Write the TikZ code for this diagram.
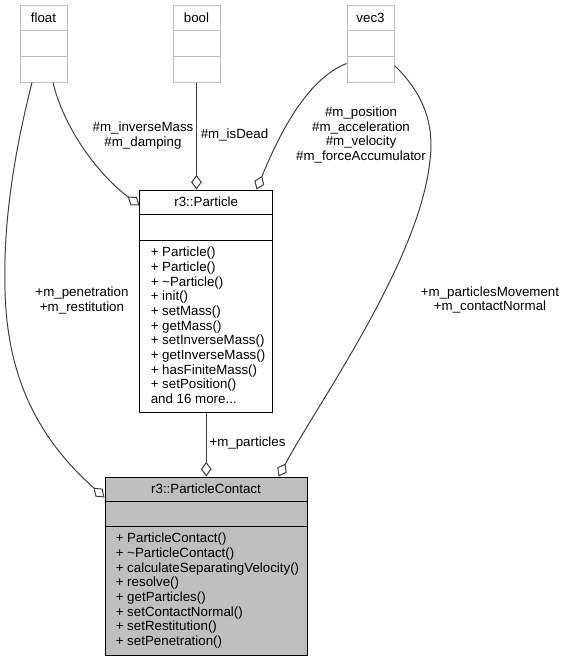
\documentclass[tikz,border=0pt]{standalone}
\usepackage{fontspec}
\setmainfont{Liberation Sans}
\usetikzlibrary{arrows.meta,calc}
\definecolor{grey75}{HTML}{BFBFBF}
\definecolor{grey25}{HTML}{404040}
\tikzset{
  >={Diamond[open,length=11pt,width=8pt]},
}
\tikzstyle{every node}=[font=\fontsize{10pt}{11pt}\selectfont]
\tikzstyle{leaf}=[draw=grey75,line width=0.75pt,minimum width=35.25pt,minimum height=57.75pt]
\tikzstyle{cls}=[draw=black,line width=0.75pt]
\tikzstyle{sep}=[line width=0.75pt]
\tikzstyle{link}=[grey25,line width=0.75pt,->]
\tikzstyle{members}=[anchor=north west,align=left,inner sep=0]
\tikzstyle{role}=[align=center,inner sep=0]

\begin{document}
\begin{tikzpicture}[x=0.75pt,y=-0.75pt]
    \useasboundingbox (0,0) rectangle (564,661);
    % member types
    \node[leaf] (float) at (43.5,43.5) {};
    \node[leaf] (bool) at (196.5,43.5) {};
    \node[leaf] (vec3) at (370.5,43.5) {};
    \foreach \t in {float,bool,vec3} {
      \node (\t-name) at ($(\t.north)+(0,13)$) {\t};
      \draw[sep,grey75] ($(\t.north west)+(0,26)$) -- ($(\t.north east)+(0,26)$);
      \draw[sep,grey75] ($(\t.north west)+(0,52)$) -- ($(\t.north east)+(0,52)$);
    }
    % r3::Particle
    \node[cls,minimum width=99.4pt,minimum height=166.5pt] (part) at (206.25,301) {};
    \node (part-name) at ($(part.north)+(0,12.5)$) {r3::Particle};
    \draw[sep] ($(part.north west)+(0,25)$) -- ($(part.north east)+(0,25)$);
    \draw[sep] ($(part.north west)+(0,51)$) -- ($(part.north east)+(0,51)$);
    \node[members] (part-ops) at ($(part.north west)+(11,57.5)$) {+ Particle()\\+ Particle()\\+ \textasciitilde Particle()\\+ init()\\+ setMass()\\+ getMass()\\+ setInverseMass()\\+ getInverseMass()\\+ hasFiniteMass()\\+ setPosition()\\and 16 more...};
    % r3::ParticleContact
    \node[cls,fill=grey75,minimum width=151.5pt,minimum height=133.5pt] (pc) at (206,566) {};
    \node (pc-name) at ($(pc.north)+(0,12)$) {r3::ParticleContact};
    \draw[sep] ($(pc.north west)+(0,25)$) -- ($(pc.north east)+(0,25)$);
    \draw[sep] ($(pc.north west)+(0,50)$) -- ($(pc.north east)+(0,50)$);
    \node[members] (pc-ops) at ($(pc.north west)+(11,56.5)$) {+ ParticleContact()\\+ \textasciitilde ParticleContact()\\+ calculateSeparatingVelocity()\\+ resolve()\\+ getParticles()\\+ setContactNormal()\\+ setRestitution()\\+ setPenetration()};
    % usage links
    \draw[link] ($(float.south)+(9.5,0)$) .. controls (63,125) and (95,172) .. ($(part.north west)+(0,16)$);
    \draw[link] (bool.south) -- (bool.south |- part.north);
    \draw[link] ($(vec3.south west)+(0,-19)$) .. controls (310,78) and (283,125) .. ($(part.north east)+(-16.5,0)$);
    \draw[link] ($(float.south)+(-11.5,0)$) .. controls (15,150) and (3,220) .. (5,290)
      .. controls (7,380) and (40,440) .. ($(pc.north west)+(0,21)$);
    \draw[link] (part.south) -- (part.south |- pc.north);
    \draw[link] ($(vec3.south east)+(0,-17)$) .. controls (420,90) and (435,120) .. (430,160)
      .. controls (420,260) and (320,400) .. ($(pc.north east)+(-29,0)$);
    \node[role] (l-mass) at (143,135.5) {\#m\_inverseMass\\\#m\_damping};
    \node[role] (l-dead) at (234.5,135) {\#m\_isDead};
    \node[role] (l-vec) at (361,135) {\#m\_position\\\#m\_acceleration\\\#m\_velocity\\\#m\_forceAccumulator};
    \node[role] (l-pen) at (82,300.5) {+m\_penetration\\+m\_restitution};
    \node[role] (l-parts) at (247.5,443) {+m\_particles};
    \node[role] (l-move) at (490,300) {+m\_particlesMovement\\+m\_contactNormal};
\end{tikzpicture}
\end{document}
